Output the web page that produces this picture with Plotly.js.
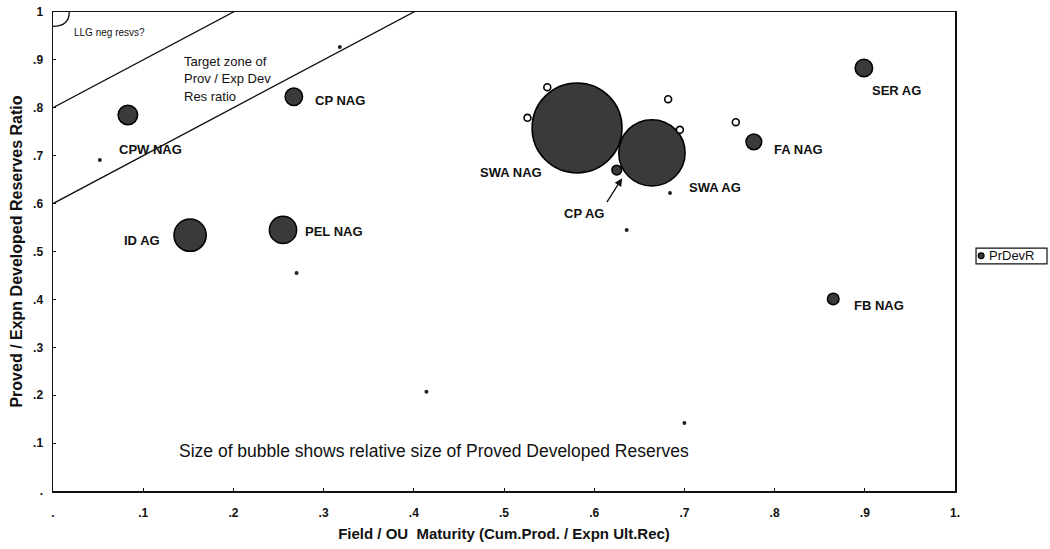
<!DOCTYPE html>
<html>
<head>
<meta charset="utf-8">
<script src="https://cdn.plot.ly/plotly-3.0.1.min.js"></script>
<style>
  html, body { margin: 0; padding: 0; background: #ffffff; }
  #chart { width: 1050px; height: 549px; }
</style>
</head>
<body>
<div id="chart"></div>
<script>
// ---- Data ----
// Field / OU maturity (Cum.Prod. / Expn Ult.Rec)
var maturity = [0.581, 0.664, 0.625, 0.548, 0.526, 0.682, 0.695, 0.757, 0.777, 0.899, 0.865, 0.267, 0.083, 0.152, 0.255,
                0.052, 0.318, 0.270, 0.414, 0.700, 0.636, 0.684];
// Proved / Expn developed reserves ratio
var prDevRatio = [0.758, 0.706, 0.670, 0.843, 0.779, 0.818, 0.754, 0.770, 0.729, 0.883, 0.401, 0.823, 0.785, 0.534, 0.545,
                  0.691, 0.927, 0.455, 0.207, 0.142, 0.545, 0.622];
// Relative size of proved developed reserves (bubble area)
var provedDevReserves = [850, 462, 10, 5, 5, 5, 5, 5, 26, 32, 14, 32, 40, 109, 78,
                         0.2, 0.2, 0.2, 0.2, 0.2, 0.2, 0.2];

// Labelled fields
var labelText = ["SWA NAG", "SWA AG", "CP AG", "FA NAG", "SER AG", "FB NAG", "CP NAG", "CPW NAG", "ID AG", "PEL NAG"];
var labelX    = [0.471, 0.703, 0.564, 0.797, 0.906, 0.886, 0.288, 0.071, 0.076, 0.277];
var labelY    = [0.664, 0.633, 0.580, 0.712, 0.837, 0.388, 0.816, 0.712, 0.524, 0.541];

// Zone boundary lines: ratio = intercept + maturity
var zoneX = [0, 1];
var upperZoneY = [0.8, 1.8];
var lowerZoneY = [0.6, 1.6];

// Tick labels
var xTickVals = [0, 0.1, 0.2, 0.3, 0.4, 0.5, 0.6, 0.7, 0.8, 0.9, 1.0];
var xTickText = [".", ".1", ".2", ".3", ".4", ".5", ".6", ".7", ".8", ".9", "1."];
var yTickVals = [0, 0.1, 0.2, 0.3, 0.4, 0.5, 0.6, 0.7, 0.8, 0.9, 1.0];
var yTickText = [".", ".1", ".2", ".3", ".4", ".5", ".6", ".7", ".8", ".9", "1"];

// Legend entry
var legendName = "PrDevR";

// ---- Build chart ----
var FONT = "Liberation Sans, Arial, Helvetica, sans-serif";
var maxDiameter = 90;
var sizeref = 2.0 * Math.max.apply(null, provedDevReserves) / (maxDiameter * maxDiameter);
// tiny fields drawn as small hollow rings / dots
var markerColors = provedDevReserves.map(function (v) { return v < 1 ? "#222" : (v < 8 ? "#ffffff" : "#3a3a3a"); });
var lineWidths = provedDevReserves.map(function (v) { return v < 1 ? 0 : (v < 8 ? 1.6 : 1.5); });

var traces = [
  {
    x: zoneX, y: upperZoneY, mode: "lines", type: "scatter",
    line: { color: "#111", width: 1.3 }, showlegend: false, hoverinfo: "skip"
  },
  {
    x: zoneX, y: lowerZoneY, mode: "lines", type: "scatter",
    line: { color: "#111", width: 1.3 }, showlegend: false, hoverinfo: "skip"
  },
  {
    x: maturity, y: prDevRatio, mode: "markers", type: "scatter",
    name: legendName, showlegend: false,
    marker: {
      size: provedDevReserves, sizemode: "area", sizeref: sizeref, sizemin: 2,
      color: markerColors, line: { color: "#000", width: lineWidths }, opacity: 1
    }
  }
];

var annotations = [];
for (var i = 0; i < labelText.length; i++) {
  annotations.push({
    x: labelX[i], y: labelY[i], xref: "x", yref: "y", text: labelText[i],
    showarrow: false, xanchor: "left", yanchor: "middle",
    font: { family: FONT, size: 13, color: "#111", weight: "bold" }
  });
}
// CP AG arrow
annotations.push({
  x: 0.631, y: 0.653, ax: 0.613, ay: 0.600, xref: "x", yref: "y", axref: "x", ayref: "y",
  text: "", showarrow: true, arrowhead: 2, arrowsize: 1.2, arrowwidth: 1.3, arrowcolor: "#111"
});
// Zone texts
annotations.push({
  x: 0.021, y: 0.958, xref: "x", yref: "y", text: "LLG neg resvs?", showarrow: false,
  xanchor: "left", yanchor: "middle", font: { family: FONT, size: 10, color: "#111" }
});
var tz = ["Target zone of", "Prov / Exp Dev", "Res ratio"];
var tzY = [0.896, 0.862, 0.823];
for (var j = 0; j < tz.length; j++) {
  annotations.push({
    x: 0.143, y: tzY[j], xref: "x", yref: "y", text: tz[j], showarrow: false,
    xanchor: "left", yanchor: "middle", font: { family: FONT, size: 13, color: "#111" }
  });
}
annotations.push({
  x: 0.137, y: 0.084, xref: "x", yref: "y",
  text: "Size of bubble shows relative size of Proved Developed Reserves", showarrow: false,
  xanchor: "left", yanchor: "middle", font: { family: FONT, size: 17.5, color: "#111" }
});
// Legend text (legend box drawn as shapes, outside the plot area)
annotations.push({
  x: 1.035, y: 0.491, xref: "paper", yref: "paper", text: legendName, showarrow: false,
  xanchor: "left", yanchor: "middle", font: { family: FONT, size: 13, color: "#111" }
});

var layout = {
  width: 1050, height: 549,
  margin: { l: 53, r: 95, t: 12, b: 58, pad: 0, autoexpand: false },
  paper_bgcolor: "#ffffff", plot_bgcolor: "#ffffff",
  font: { family: FONT, color: "#111" },
  xaxis: {
    range: [0, 1], tickvals: xTickVals, ticktext: xTickText,
    showgrid: false, zeroline: false, showline: true, mirror: true,
    linecolor: "#111", linewidth: 1.5, ticks: "inside", ticklen: 3, tickcolor: "#111",
    ticklabelstandoff: 10,
    tickfont: { family: FONT, size: 12, color: "#111", weight: "bold" },
    title: { text: "Field / OU  Maturity (Cum.Prod. / Expn Ult.Rec)", standoff: 9,
             font: { family: FONT, size: 15, color: "#111", weight: "bold" } }
  },
  yaxis: {
    range: [0, 1], tickvals: yTickVals, ticktext: yTickText,
    showgrid: false, zeroline: false, showline: true, mirror: true,
    linecolor: "#111", linewidth: 1.5, ticks: "inside", ticklen: 3, tickcolor: "#111",
    ticklabelstandoff: 6,
    tickfont: { family: FONT, size: 12, color: "#111", weight: "bold" },
    title: { text: "Proved / Expn Developed Reserves Ratio", standoff: 6,
             font: { family: FONT, size: 16, color: "#111", weight: "bold" } }
  },
  shapes: [
    { type: "path", xref: "x", yref: "y", path: "M 0,0.97 Q 0.018,0.97 0.018,1",
      line: { color: "#111", width: 1.3 } },
    // legend box
    { type: "rect", xref: "paper", yref: "paper", x0: 1.0233, x1: 1.102, y0: 0.474, y1: 0.507,
      line: { color: "#111", width: 1.2 }, fillcolor: "#fff" },
    // legend symbol
    { type: "circle", xref: "paper", yref: "paper", x0: 1.0258, x1: 1.0322, y0: 0.485, y1: 0.497,
      line: { color: "#000", width: 1.2 }, fillcolor: "#3a3a3a" }
  ],
  annotations: annotations,
  showlegend: false
};

Plotly.newPlot("chart", traces, layout, { displayModeBar: false, staticPlot: true });
</script>
</body>
</html>
